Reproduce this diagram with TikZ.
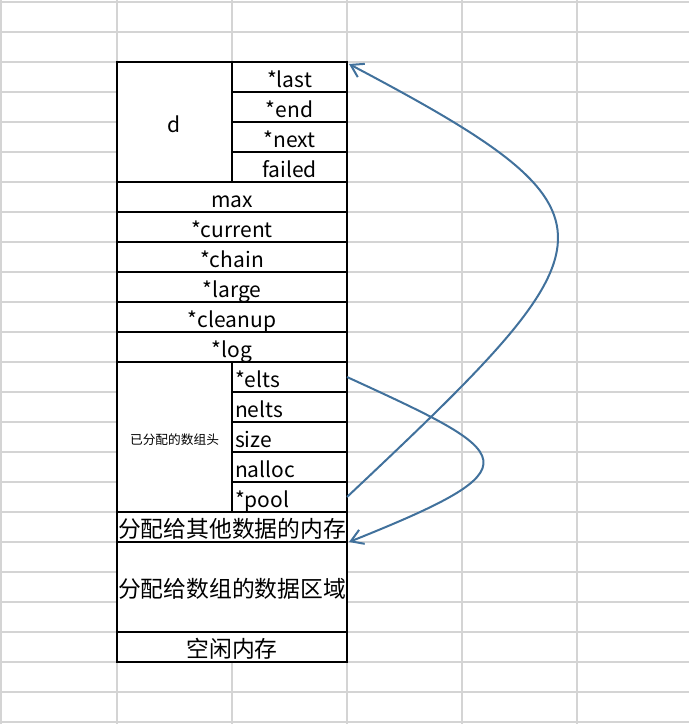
\documentclass[tikz,border=0pt]{standalone}
\usepackage{fontspec}
\setmainfont{Noto Sans CJK SC}
\usetikzlibrary{arrows.meta}
\definecolor{gridc}{RGB}{212,212,212}
\definecolor{arrc}{RGB}{65,113,156}
\newcommand\myfontlat{\fontsize{21}{24}\selectfont}
\newcommand\myfontcjk{\fontsize{22.8}{26}\selectfont}
\newcommand\myfontsmall{\fontsize{12.7}{15}\selectfont}
\begin{document}
\begin{tikzpicture}[x=1pt,y=-1pt,
  cell/.style={draw=black, line width=1.2pt, fill=white, inner sep=0pt, outer sep=0pt,
    anchor=north west, minimum width=115pt, minimum height=30pt,
    text height=20pt, text depth=0pt, font=\myfontlat},
  wide/.style={cell, minimum width=230pt},
  lcell/.style={cell, inner xsep=3pt, text width=109pt, align=left},
  arr/.style={draw=arrc, line width=2pt, -{Straight Barb[length=12pt,width=15pt]}}]
\useasboundingbox (0,0) rectangle (689,724);
% spreadsheet grid
\foreach \x in {1,117,232,347,462,577}
  \draw[gridc, line width=1.2pt] (\x,0) -- (\x,724);
\foreach \k in {0,...,24}
  \draw[gridc, line width=1.2pt] (0,2+30*\k) -- (689,2+30*\k);
% d block
\node[cell, minimum height=120pt] (d) at (117,62) {d};
\node[cell] (last) at (232,62) {*last};
\node[cell] (end) at (232,92) {*end};
\node[cell] (next) at (232,122) {*next};
\node[cell] (failed) at (232,152) {failed};
% full-width rows
\node[wide] (max) at (117,182) {max};
\node[wide] (current) at (117,212) {*current};
\node[wide] (chain) at (117,242) {*chain};
\node[wide] (large) at (117,272) {*large};
\node[wide] (cleanup) at (117,302) {*cleanup};
\node[wide] (log) at (117,332) {*log};
% array header
\node[cell, minimum height=150pt, font=\myfontsmall, text height=15.6pt] (hdr) at (117,362) {已分配的数组头};
\node[lcell] (elts) at (232,362) {*elts};
\node[lcell] (nelts) at (232,392) {nelts};
\node[lcell] (size) at (232,422) {size};
\node[lcell] (nalloc) at (232,452) {nalloc};
\node[lcell] (pool) at (232,482) {*pool};
% memory regions
\node[wide, font=\myfontcjk] (other) at (117,512) {分配给其他数据的内存};
\node[wide, font=\myfontcjk, minimum height=90pt] (data) at (117,542) {分配给数组的数据区域};
\node[wide, font=\myfontcjk] (free) at (117,632) {空闲内存};
% arrows
\draw[arr] (pool.east) .. controls (620,240) and (635,215) .. ([shift={(2,2)}]last.north east);
\draw[arr] (elts.east) .. controls (517,455) and (539,466) .. ([xshift=2pt]other.south east);
\end{tikzpicture}
\end{document}
